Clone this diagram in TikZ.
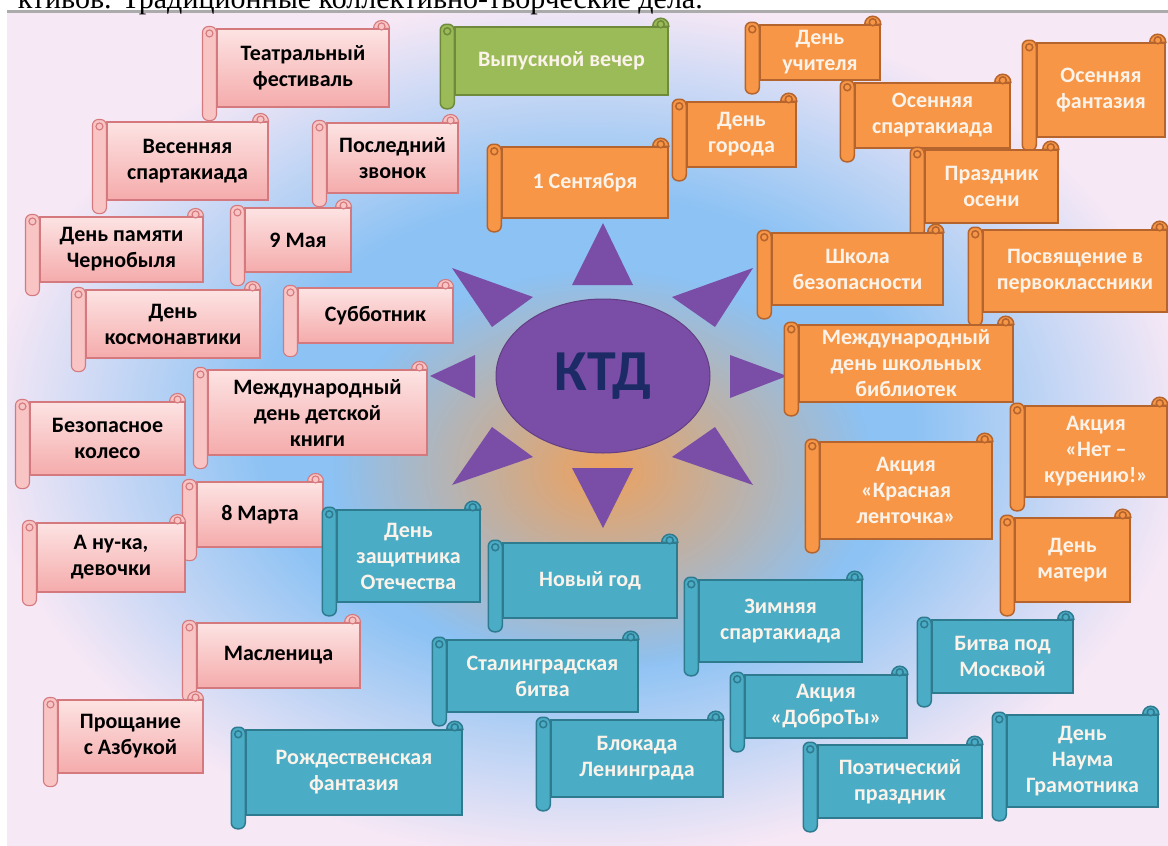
\documentclass[tikz,border=0pt]{standalone}
\usepackage{fontspec}
\setmainfont{Carlito}
\newfontfamily\captionserif{Liberation Serif}
\usetikzlibrary{shapes.geometric,fadings}

\definecolor{skyblue}{HTML}{8CC2F4}
\definecolor{paleedge}{HTML}{F7E8F5}
\definecolor{sunglow}{HTML}{EDA15E}
\definecolor{raypurple}{HTML}{7A4EA6}
\definecolor{ktdtext}{HTML}{1C2A66}
\definecolor{pinktop}{HTML}{FDE3E3}
\definecolor{pinkbot}{HTML}{F5ABAB}
\definecolor{pinkline}{HTML}{D47A7E}
\definecolor{orangefill}{HTML}{F79646}
\definecolor{orangeline}{HTML}{B4642C}
\definecolor{tealfill}{HTML}{4BACC6}
\definecolor{tealline}{HTML}{2E7A8F}
\definecolor{greenfill}{HTML}{9BBB59}
\definecolor{greenline}{HTML}{6E8A3A}
\definecolor{lighttext}{HTML}{FBF3EA}

\pgfdeclareradialshading{ktdback}{\pgfpoint{0bp}{0bp}}{color(0bp)=(skyblue); color(14bp)=(skyblue); color(26bp)=(paleedge); color(50bp)=(paleedge)}
\tikzfading[name=glowfade, inner color=transparent!0, outer color=transparent!100]

\tikzstyle{scroll}=[rectangle, inner sep=0pt, align=center, line width=1.5pt, font={\fontsize{22}{26}\selectfont\bfseries}]
\tikzstyle{pinkscroll}=[scroll, draw=pinkline, top color=pinktop, bottom color=pinkbot, text=black, line width=1.1pt]
\tikzstyle{pinkroll}=[draw=pinkline, fill=pinkbot!55!pinktop, line width=1.1pt]
\tikzstyle{orangescroll}=[scroll, draw=orangeline, fill=orangefill, text=lighttext]
\tikzstyle{orangeroll}=[draw=orangeline, fill=orangefill, line width=1.5pt]
\tikzstyle{tealscroll}=[scroll, draw=tealline, fill=tealfill, text=lighttext]
\tikzstyle{tealroll}=[draw=tealline, fill=tealfill, line width=1.5pt]
\tikzstyle{greenscroll}=[scroll, draw=greenline, fill=greenfill, text=lighttext]
\tikzstyle{greenroll}=[draw=greenline, fill=greenfill, line width=1.5pt]
\tikzstyle{ray}=[fill=raypurple]
\tikzstyle{ktd}=[ellipse, fill=raypurple, draw=raypurple!80!black, line width=1pt, minimum width=214pt, minimum height=154pt, text=ktdtext, font={\fontsize{58}{60}\selectfont\bfseries}]

\begin{document}
\begin{tikzpicture}[x=1pt, y=-1pt]

    \clip (0,0) rectangle (1168,846);
    \fill[white] (0,0) rectangle (1168,846);
    \shade[shading=ktdback] (7,13) rectangle (1168,845);
    \fill[sunglow, path fading=glowfade] (603,470) ellipse [x radius=270, y radius=200];
    \draw[line width=3pt, black!33] (7,11.5) -- (1168,11.5);
    \node[anchor=base east, inner sep=0pt, font={\captionserif\fontsize{30}{30}\selectfont}] (caption) at (703,8) {ктивов. Традиционные коллективно-творческие дела.};

    % sun
    \foreach \a/\b/\c in {{(603,223)/(572,285)/(633,285)}, {(603,528)/(572,468)/(633,468)}, {(430,376)/(475,355)/(475,398)}, {(787,376)/(730,355)/(730,398)},
                          {(452,268)/(533,297)/(492,327)}, {(753,268)/(672,297)/(715,327)}, {(452,485)/(492,427)/(533,457)}, {(753,485)/(715,427)/(672,457)}}
        \fill[ray] \a -- \b -- \c -- cycle;
    \node[ktd] (ktd) at (603,376) {КТД};

    % spring
    \foreach \pos/\name/\w/\h/\txt in {{(303,68)/teatr/172/78/{Театральный\\фестиваль}}, {(187.5,161)/vesna/161/78/{Весенняя\\спартакиада}},
            {(392.5,158)/zvonok/131/70/{Последний\\звонок}}, {(121.5,249.5)/chernobyl/163/65/{День памяти\\Чернобыля}},
            {(298,240)/maya/106/64/{9 Мая}}, {(173,324)/kosmos/174/68/{День\\космонавтики}}, {(375.5,315.5)/subbot/155/55/{Субботник}},
            {(317.5,412.5)/knigi/219/85/{Международный\\день детской\\книги}}, {(107.5,438.5)/koleso/155/73/{Безопасное\\колесо}},
            {(260,514.5)/mart/126/65/{8 Марта}}, {(111,557.5)/devochki/148/69/{А ну-ка,\\девочки}},
            {(278.5,655.5)/maslen/163/65/{Масленица}}, {(130.5,736.5)/azbuka/145/73/{Прощание\\с Азбукой}}}
    {
        \node[pinkscroll, minimum width=\w pt, minimum height=\h pt] (\name) at \pos {\txt};
        \draw[pinkroll, rounded corners=6pt] ([xshift=-14pt,yshift=2pt]\name.north west) rectangle ([yshift=-13pt]\name.south west);
        \draw[pinkroll] ([xshift=-16pt]\name.north east) arc[start angle=180, end angle=0, radius=8pt] -- cycle;
        \draw[pinkroll] ([xshift=-7pt,yshift=-5pt]\name.north west) circle (3.5pt) ([xshift=-8pt,yshift=2pt]\name.north east) circle (3.5pt);
    }

    \foreach \pos/\name/\w/\h/\txt in {{(561.5,61)/vypusk/213/68/{Выпускной вечер}}}
    {
        \node[greenscroll, minimum width=\w pt, minimum height=\h pt] (\name) at \pos {\txt};
        \draw[greenroll, rounded corners=6pt] ([xshift=-14pt,yshift=2pt]\name.north west) rectangle ([yshift=-13pt]\name.south west);
        \draw[greenroll] ([xshift=-16pt]\name.north east) arc[start angle=180, end angle=0, radius=8pt] -- cycle;
        \draw[greenroll] ([xshift=-7pt,yshift=-5pt]\name.north west) circle (3.5pt) ([xshift=-8pt,yshift=2pt]\name.north east) circle (3.5pt);
    }

    % autumn
    \foreach \pos/\name/\w/\h/\txt in {{(585,182.5)/sentyabr/166/71/{1 Сентября}}, {(741.5,134.5)/gorod/109/65/{День\\города}},
            {(820,52.5)/uchitel/120/55/{День\\учителя}}, {(932.5,115.5)/osensport/155/65/{Осенняя\\спартакиада}},
            {(1101,90)/fantaz/128/94/{Осенняя\\фантазия}}, {(991.5,186.5)/prazdnik/133/73/{Праздник\\осени}},
            {(857.5,269)/shkola/171/72/{Школа\\безопасности}}, {(1075,271)/posvyash/184/82/{Посвящение в\\первоклассники}},
            {(906,363.5)/biblio/214/77/{Международный\\день школьных\\библиотек}}, {(906,490.5)/lentochka/172/97/{Акция\\«Красная\\ленточка»}},
            {(1096,451.5)/kurenie/142/91/{Акция\\«Нет –\\курению!»}}, {(1072.5,560)/mat/115/84/{День\\матери}}}
    {
        \node[orangescroll, minimum width=\w pt, minimum height=\h pt] (\name) at \pos {\txt};
        \draw[orangeroll, rounded corners=6pt] ([xshift=-14pt,yshift=2pt]\name.north west) rectangle ([yshift=-13pt]\name.south west);
        \draw[orangeroll] ([xshift=-16pt]\name.north east) arc[start angle=180, end angle=0, radius=8pt] -- cycle;
        \draw[orangeroll] ([xshift=-7pt,yshift=-5pt]\name.north west) circle (3.5pt) ([xshift=-8pt,yshift=2pt]\name.north east) circle (3.5pt);
    }

    % winter
    \foreach \pos/\name/\w/\h/\txt in {{(408.5,556)/zashch/143/92/{День\\защитника\\Отечества}}, {(590,580.5)/novgod/174/75/{Новый год}},
            {(780.5,621)/zima/163/82/{Зимняя\\спартакиада}}, {(542.5,676)/stalin/191/72/{Сталинградская\\битва}},
            {(637,758.5)/blokada/172/77/{Блокада\\Ленинграда}}, {(354,772.5)/rozhd/216/85/{Рождественская\\фантазия}},
            {(826,706.5)/dobroty/162/63/{Акция\\«ДоброТы»}}, {(1002.5,656.5)/moskva/141/73/{Битва под\\Москвой}},
            {(900,781.5)/poet/164/73/{Поэтический\\праздник}}, {(1082.5,761)/naum/151/92/{День\\Наума\\Грамотника}}}
    {
        \node[tealscroll, minimum width=\w pt, minimum height=\h pt] (\name) at \pos {\txt};
        \draw[tealroll, rounded corners=6pt] ([xshift=-14pt,yshift=2pt]\name.north west) rectangle ([yshift=-13pt]\name.south west);
        \draw[tealroll] ([xshift=-16pt]\name.north east) arc[start angle=180, end angle=0, radius=8pt] -- cycle;
        \draw[tealroll] ([xshift=-7pt,yshift=-5pt]\name.north west) circle (3.5pt) ([xshift=-8pt,yshift=2pt]\name.north east) circle (3.5pt);
    }

\end{tikzpicture}
\end{document}
